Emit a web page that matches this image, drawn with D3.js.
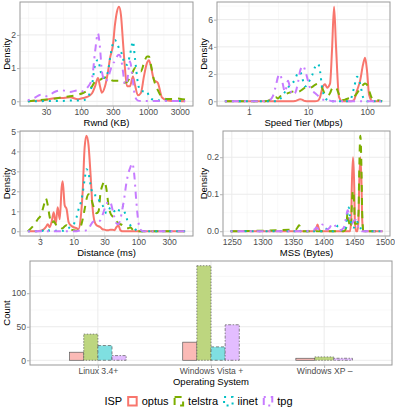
<!DOCTYPE html>
<html>
<head>
<meta charset="utf-8">
<script src="https://cdn.jsdelivr.net/npm/d3@7"></script>
<style>
body { margin: 0; background: #fff; }
svg text { font-family: "Liberation Sans", Arial, sans-serif; }
</style>
</head>
<body>
<svg id="chart" width="395" height="414"></svg>
<script>
// ---- data ----
var isps = ["optus", "telstra", "iinet", "tpg"];

// Rwnd (KB) densities
var rwndKB = [16, 20, 25, 31, 40, 52, 68, 90, 107, 123, 146, 162, 179, 192, 205, 228, 253, 271, 300, 321, 344, 369, 395, 423, 453, 486, 538, 597, 639, 708, 785, 871, 966, 1035, 1108, 1228, 1410, 1616, 1920, 2280, 2800, 3300, 3600];
var rwndOptus = [0, 0.01, 0.02, 0.05, 0.09, 0.1, 0.12, 0.06, 0.1, 0.13, 0.24, 0.45, 0.7, 0.45, 0.26, 0.45, 0.9, 1.3, 1.7, 2.3, 2.7, 2.85, 2.6, 1.8, 1.0, 0.45, 0.45, 0.75, 0.5, 0.18, 0.25, 0.75, 1.15, 1.24, 1.05, 0.65, 0.55, 0.12, 0.03, 0.01, 0.01, 0, 0];
var rwndTelstra = [0, 0.02, 0.04, 0.05, 0.08, 0.12, 0.15, 0.2, 0.25, 0.32, 0.45, 0.6, 0.65, 0.65, 0.68, 0.72, 0.7, 0.66, 0.62, 0.62, 0.62, 0.62, 0.6, 0.58, 0.56, 0.58, 0.72, 0.9, 1.0, 0.95, 0.9, 1.15, 1.35, 1.35, 1.1, 0.65, 0.33, 0.13, 0.07, 0.07, 0.08, 0.06, 0.05];
var rwndIinet = [0, 0, 0, 0.01, 0.01, 0.01, 0.02, 0.02, 0.03, 0.1, 0.5, 1.1, 1.25, 1.0, 0.75, 0.7, 0.9, 1.3, 1.75, 1.85, 1.75, 1.6, 1.5, 1.3, 1.1, 1.1, 1.4, 1.8, 1.3, 0.55, 0.3, 0.3, 0.3, 0.15, 0.08, 0.05, 0.03, 0.02, 0.02, 0.01, 0.01, 0.01, 0];
var rwndTpg = [0.03, 0.1, 0.2, 0.15, 0.28, 0.33, 0.28, 0.33, 0.3, 0.4, 0.7, 1.5, 2.05, 1.6, 0.9, 0.6, 0.7, 0.9, 1.15, 1.2, 1.35, 1.4, 1.3, 0.9, 0.5, 0.6, 1.2, 0.6, 0.15, 0.02, 0.01, 0.01, 0.01, 0.01, 0.01, 0.01, 0.01, 0.01, 0.01, 0.01, 0.01, 0.01, 0];
var rwndTicks = [30, 100, 300, 1000, 3000];
var rwndYTicks = [0, 1, 2];

// Speed tier (Mbps) densities
var speedMbps = [0.39, 0.7, 1.26, 1.87, 2.27, 2.55, 2.87, 3.1, 3.35, 3.63, 4.08, 4.58, 4.95, 5.35, 6.02, 6.77, 7.32, 7.91, 8.23, 8.89, 10, 10.8, 11.7, 13.1, 14.8, 16, 17.3, 19.4, 21, 23.6, 25.5, 27.6, 29.8, 33.5, 37.7, 42.4, 47.6, 53.5, 60.2, 67.7, 76.1, 85.5, 92.5, 100, 108, 122, 137, 166, 180];
var speedOptus = [0, 0, 0, 0, 0, 0, 0, 0, 0, 0, 0, 0, 0, 0, 0.02, 0.1, 0.15, 0.12, 0.08, 0.02, 0, 0, 0, 0, 0.05, 0.3, 0.9, 1.25, 1.0, 1.3, 3.8, 6.95, 4.0, 0.3, 0.01, 0, 0, 0, 0.1, 0.8, 1.5, 2.7, 3.2, 2.2, 0.5, 0.02, 0, 0, 0];
var speedTelstra = [0, 0, 0, 0, 0.1, 0.3, 0.3, 0.2, 0.35, 0.4, 0.5, 0.6, 0.65, 0.7, 0.75, 0.7, 0.75, 0.85, 0.9, 1.0, 1.05, 1.0, 1.05, 1.2, 1.3, 1.25, 1.0, 0.5, 0.4, 0.6, 0.95, 1.05, 1.0, 0.5, 0.1, 0.12, 0.2, 0.25, 0.35, 0.6, 0.95, 1.2, 1.3, 1.2, 0.8, 0.2, 0.1, 0.05, 0];
var speedIinet = [0, 0, 0, 0, 0, 0, 0, 0.05, 0.15, 0.35, 0.7, 1.0, 1.2, 1.3, 1.6, 2.1, 2.15, 1.8, 1.5, 1.1, 1.3, 1.6, 1.9, 2.5, 2.75, 2.2, 1.0, 0.3, 0.1, 0.02, 0, 0, 0, 0, 0, 0, 0, 0.2, 1.0, 1.8, 1.3, 0.3, 0.05, 0, 0, 0, 0, 0, 0];
var speedTpg = [0, 0, 0, 0, 0.1, 0.4, 1.2, 1.8, 2.0, 1.5, 0.7, 1.5, 1.0, 0.5, 0.6, 1.4, 2.2, 2.55, 2.6, 2.3, 1.5, 1.0, 0.8, 0.6, 0.4, 0.25, 0.15, 0.1, 0.1, 0.05, 0, 0, 0, 0, 0, 0, 0, 0, 0, 0, 0, 0, 0, 0, 0, 0, 0, 0, 0];
var speedTicks = [1, 10, 100];
var speedYTicks = [0, 2, 4, 6];

// Distance (ms) densities
var distMs = [1.96, 2.42, 2.79, 3.1, 3.46, 3.71, 3.98, 4.27, 4.59, 4.92, 5.28, 5.67, 6.09, 6.53, 6.77, 7.27, 7.8, 8.37, 8.99, 10, 11.1, 11.9, 12.8, 13.8, 14.8, 15.8, 17, 18.3, 19.6, 21, 22.6, 24.3, 26, 27.9, 30, 32.2, 34.6, 37.1, 39.8, 42.7, 45.9, 49.2, 52.8, 56.7, 60.9, 65.3, 70.2, 75.3, 80.8, 86.8, 93.1, 100, 107, 115, 124, 133, 153, 218, 371, 530];
var distOptus = [0, 0, 0, 0.02, 0.1, 0.2, 0.35, 0.2, 0.5, 0.95, 0.35, 1.2, 0.6, 2.2, 2.5, 1.3, 1.1, 0.45, 0.3, 0.2, 0.15, 0.1, 0.6, 2.0, 4.2, 4.78, 4.3, 2.8, 1.2, 0.5, 0.3, 0.25, 0.2, 0.1, 0.08, 0.05, 0.05, 0.08, 0.08, 0.05, 0.2, 0.3, 0.05, 0, 0, 0, 0, 0, 0, 0, 0, 0, 0, 0, 0, 0, 0, 0, 0, 0];
var distTelstra = [0, 0.3, 0.6, 0.8, 1.3, 1.65, 1.3, 0.7, 0.4, 0.5, 0.35, 0.2, 0.2, 0.15, 0.15, 0.25, 0.3, 0.2, 0.1, 0.05, 0.03, 0.05, 0.2, 0.6, 1.1, 1.6, 1.85, 1.75, 1.4, 1.1, 0.9, 1.0, 1.9, 2.3, 2.5, 2.1, 1.3, 0.9, 0.75, 0.7, 0.5, 0.4, 0.35, 0.3, 0.2, 0.15, 0.15, 0.2, 0.1, 0.02, 0, 0, 0, 0, 0, 0, 0, 0, 0, 0];
var distIinet = [0, 0, 0, 0, 0.05, 0.1, 0.1, 0.02, 0.02, 0.02, 0.02, 0.02, 0.02, 0.02, 0.02, 0.05, 0.1, 0.15, 0.25, 0.35, 0.7, 1.1, 1.4, 1.9, 2.6, 3.1, 2.9, 2.3, 1.9, 1.8, 1.8, 1.6, 1.4, 1.3, 1.1, 0.9, 1.0, 1.2, 1.1, 1.0, 0.9, 1.0, 1.2, 1.3, 1.0, 0.7, 0.4, 0.3, 0.2, 0.15, 0.05, 0, 0, 0, 0, 0, 0, 0, 0, 0];
var distTpg = [0, 0, 0, 0, 0, 0, 0, 0, 0, 0, 0, 0, 0, 0, 0, 0, 0, 0, 0, 0, 0, 0.02, 0.02, 0.02, 0.02, 0.05, 0.1, 0.3, 0.45, 0.5, 0.5, 0.5, 0.55, 0.8, 1.1, 1.35, 1.5, 1.45, 1.1, 0.7, 0.4, 0.35, 0.6, 1.1, 1.7, 2.4, 2.9, 3.2, 3.4, 2.8, 1.5, 0.5, 0.1, 0.02, 0, 0, 0, 0, 0, 0];
var distTicks = [3, 10, 30, 100, 300];
var distYTicks = [0, 1, 2, 3, 4, 5];

// MSS (Bytes) densities
var mssBytes = [1248, 1355, 1358, 1360, 1362, 1365, 1385, 1388, 1390, 1392, 1395, 1398, 1400, 1402, 1405, 1410, 1413, 1416, 1420, 1424, 1428, 1433, 1437, 1439, 1441, 1443, 1445, 1446, 1448, 1450, 1451, 1453, 1455, 1457, 1458, 1460, 1462, 1463, 1465, 1470, 1496];
var mssOptus = [0, 0, 0, 0, 0, 0, 0, 0.008, 0.018, 0.008, 0, 0, 0, 0, 0, 0, 0, 0, 0, 0, 0, 0, 0, 0, 0, 0, 0.03, 0.12, 0.2, 0.12, 0.03, 0, 0, 0.03, 0.12, 0.2, 0.12, 0.03, 0, 0, 0];
var mssTelstra = [0, 0.005, 0.012, 0.016, 0.01, 0, 0, 0, 0, 0, 0, 0, 0, 0, 0, 0, 0, 0, 0, 0, 0, 0, 0.01, 0.05, 0.03, 0.01, 0.02, 0.07, 0.11, 0.07, 0.02, 0.02, 0.02, 0.05, 0.15, 0.258, 0.15, 0.05, 0, 0, 0];
var mssIinet = [0, 0, 0, 0.004, 0, 0, 0, 0, 0, 0, 0, 0, 0.006, 0.008, 0.006, 0, 0, 0, 0.008, 0.016, 0.004, 0, 0.02, 0.05, 0.064, 0.04, 0.02, 0.015, 0.01, 0.01, 0.015, 0.02, 0.025, 0.02, 0.015, 0.01, 0, 0, 0, 0, 0];
var mssTpg = [0, 0, 0, 0, 0, 0, 0.005, 0.01, 0.008, 0.005, 0.01, 0.018, 0.01, 0.005, 0.005, 0.01, 0.018, 0.02, 0.012, 0.005, 0.003, 0.01, 0.04, 0.057, 0.05, 0.03, 0.02, 0.02, 0.025, 0.03, 0.03, 0.03, 0.02, 0.01, 0.008, 0.005, 0, 0, 0, 0, 0];
var mssTicks = [1250, 1300, 1350, 1400, 1450, 1500];
var mssYTicks = [0, 0.1, 0.2];

// Operating system counts (null = no bar)
var osCategories = ["Linux 3.4+", "Windows Vista +", "Windows XP \u2013"];
var osOptus = [12, 27, 3];
var osTelstra = [39, 141, 5];
var osIinet = [22, 20, null];
var osTpg = [7, 53, 3];
var osYTicks = [0, 50, 100];

// ---- styling ----
var ispColors = ["#F8766D", "#7CAE00", "#00BFC4", "#C77CFF"];
var ispFills = ["#FBBAB6", "#BDD67F", "#7FDFE1", "#E3BDFF"];
var ispDash = [null, "7,6", "2,5", "2,5,7,5"];
var barDash = [null, "1.5,1.5", "3,2", "1.5,1.5,3,1.5"];
var tickColor = "#4d4d4d";

var svg = d3.select("#chart");
svg.append("rect").attr("width", 395).attr("height", 414).attr("fill", "#fff");

function minorLog(ticks, dom) {
	var out = [];
	var a = ticks[0], b = ticks[1], n = ticks.length;
	out.push(a / Math.sqrt(b / a));
	for (var i = 0; i < n - 1; i++) out.push(Math.sqrt(ticks[i] * ticks[i + 1]));
	out.push(ticks[n - 1] * Math.sqrt(ticks[n - 1] / ticks[n - 2]));
	return out.filter(function(v) { return v > dom[0] && v < dom[1]; });
}
function minorLin(ticks, dom) {
	var step = ticks[1] - ticks[0], out = [ticks[0] - step / 2];
	ticks.forEach(function(t) { out.push(t + step / 2); });
	return out.filter(function(v) { return v > dom[0] && v < dom[1]; });
}

function styleAxis(ax) {
	ax.select(".domain").remove();
	ax.attr("font-family", null).attr("font-size", null);
	ax.selectAll(".tick line").attr("stroke", "#b3b3b3");
	ax.selectAll(".tick text").attr("fill", tickColor).style("font-size", "8.6px");
}

function densityPanel(p) {
	var g = svg.append("g");
	var ext = d3.extent(p.xs), xd;
	if (p.log) {
		var l0 = Math.log10(ext[0]), l1 = Math.log10(ext[1]), e = (l1 - l0) * 0.05;
		xd = [Math.pow(10, l0 - e), Math.pow(10, l1 + e)];
	} else {
		var e2 = (ext[1] - ext[0]) * 0.05;
		xd = [ext[0] - e2, ext[1] + e2];
	}
	var ymax = d3.max(p.series, function(s) { return d3.max(s); });
	var yd = [-0.05 * ymax, 1.05 * ymax];
	var x = (p.log ? d3.scaleLog() : d3.scaleLinear()).domain(xd).range([p.left, p.right]);
	var y = d3.scaleLinear().domain(yd).range([p.bottom, p.top]);

	var xMinor = p.log ? minorLog(p.xticks, xd) : minorLin(p.xticks, xd);
	var yMinor = minorLin(p.yticks, yd);
	g.selectAll(".vmin").data(xMinor).enter().append("line")
		.attr("x1", x).attr("x2", x).attr("y1", p.top).attr("y2", p.bottom)
		.attr("stroke", "#f3f3f3").attr("stroke-width", 0.6);
	g.selectAll(".hmin").data(yMinor).enter().append("line")
		.attr("y1", y).attr("y2", y).attr("x1", p.left).attr("x2", p.right)
		.attr("stroke", "#f3f3f3").attr("stroke-width", 0.6);
	g.selectAll(".vmaj").data(p.xticks).enter().append("line")
		.attr("x1", x).attr("x2", x).attr("y1", p.top).attr("y2", p.bottom)
		.attr("stroke", "#ebebeb").attr("stroke-width", 1);
	g.selectAll(".hmaj").data(p.yticks).enter().append("line")
		.attr("y1", y).attr("y2", y).attr("x1", p.left).attr("x2", p.right)
		.attr("stroke", "#ebebeb").attr("stroke-width", 1);

	var line = d3.line()
		.x(function(d) { return x(d[0]); })
		.y(function(d) { return y(d[1]); })
		.curve(d3.curveMonotoneX);
	p.series.forEach(function(vals, i) {
		g.append("path")
			.datum(p.xs.map(function(v, j) { return [v, vals[j]]; }))
			.attr("d", line)
			.attr("fill", "none")
			.attr("stroke", ispColors[i])
			.attr("stroke-width", 2)
			.attr("stroke-linejoin", "round")
			.attr("stroke-dasharray", ispDash[i]);
	});

	g.append("rect").attr("x", p.left).attr("y", p.top)
		.attr("width", p.right - p.left).attr("height", p.bottom - p.top)
		.attr("fill", "none").attr("stroke", "#999").attr("stroke-width", 1);

	var xa = g.append("g").attr("transform", "translate(0," + p.bottom + ")")
		.call(d3.axisBottom(x).tickValues(p.xticks).tickFormat(d3.format("d")).tickSize(3).tickPadding(0));
	styleAxis(xa);
	var ya = g.append("g").attr("transform", "translate(" + p.left + ",0)")
		.call(d3.axisLeft(y).tickValues(p.yticks).tickFormat(d3.format(p.yfmt)).tickSize(3).tickPadding(1));
	styleAxis(ya);

	g.append("text").attr("x", (p.left + p.right) / 2).attr("y", p.bottom + 19.5)
		.attr("text-anchor", "middle").style("font-size", "9.5px").text(p.xtitle);
	g.append("text").attr("transform", "translate(" + p.ytx + "," + (p.top + p.bottom) / 2 + ")rotate(-90)")
		.attr("text-anchor", "middle").style("font-size", "9.5px").text("Density");
}

densityPanel({ left: 20, right: 193, top: 2, bottom: 106, log: true, xs: rwndKB,
	series: [rwndOptus, rwndTelstra, rwndIinet, rwndTpg], xticks: rwndTicks, yticks: rwndYTicks,
	yfmt: "d", xtitle: "Rwnd (KB)", ytx: 9.5 });
densityPanel({ left: 217, right: 390, top: 2, bottom: 106, log: true, xs: speedMbps,
	series: [speedOptus, speedTelstra, speedIinet, speedTpg], xticks: speedTicks, yticks: speedYTicks,
	yfmt: "d", xtitle: "Speed Tier (Mbps)", ytx: 207 });
densityPanel({ left: 20, right: 193, top: 131, bottom: 236, log: true, xs: distMs,
	series: [distOptus, distTelstra, distIinet, distTpg], xticks: distTicks, yticks: distYTicks,
	yfmt: "d", xtitle: "Distance (ms)", ytx: 9.5 });
densityPanel({ left: 223, right: 390, top: 131, bottom: 236, log: false, xs: mssBytes,
	series: [mssOptus, mssTelstra, mssIinet, mssTpg], xticks: mssTicks, yticks: mssYTicks,
	yfmt: ".1f", xtitle: "MSS (Bytes)", ytx: 207 });

// ---- bar chart ----
var bar = { left: 30, right: 392, top: 261, bottom: 365 };
var osSeries = [osOptus, osTelstra, osIinet, osTpg];
var bg = svg.append("g");
var cx = d3.scalePoint().domain(osCategories).range([bar.left, bar.right]).padding(0.6);
var osMax = d3.max(osSeries, function(s) { return d3.max(s); });
var by = d3.scaleLinear().domain([-0.05 * osMax, 1.05 * osMax]).range([bar.bottom, bar.top]);

bg.selectAll(".hmin").data(minorLin(osYTicks, by.domain())).enter().append("line")
	.attr("y1", by).attr("y2", by).attr("x1", bar.left).attr("x2", bar.right)
	.attr("stroke", "#f3f3f3").attr("stroke-width", 0.6);
bg.selectAll(".hmaj").data(osYTicks).enter().append("line")
	.attr("y1", by).attr("y2", by).attr("x1", bar.left).attr("x2", bar.right)
	.attr("stroke", "#ebebeb").attr("stroke-width", 1);
bg.selectAll(".vmaj").data(osCategories).enter().append("line")
	.attr("x1", cx).attr("x2", cx).attr("y1", bar.top).attr("y2", bar.bottom)
	.attr("stroke", "#ebebeb").attr("stroke-width", 1);

var groupW = cx.step() * 0.5;
osCategories.forEach(function(cat, ci) {
	var present = [];
	osSeries.forEach(function(s, si) { if (s[ci] != null) present.push(si); });
	var bw = groupW / present.length;
	var x0 = cx(cat) - groupW / 2;
	present.forEach(function(si, k) {
		var v = osSeries[si][ci];
		bg.append("rect")
			.attr("x", x0 + k * bw).attr("width", bw)
			.attr("y", by(v)).attr("height", by(0) - by(v))
			.attr("fill", ispFills[si])
			.attr("stroke", "#5a5a5a").attr("stroke-width", 0.7)
			.attr("stroke-dasharray", barDash[si]);
	});
});

bg.append("rect").attr("x", bar.left).attr("y", bar.top)
	.attr("width", bar.right - bar.left).attr("height", bar.bottom - bar.top)
	.attr("fill", "none").attr("stroke", "#999").attr("stroke-width", 1);

var bxa = bg.append("g").attr("transform", "translate(0," + bar.bottom + ")")
	.call(d3.axisBottom(cx).tickSize(3).tickPadding(0));
styleAxis(bxa);
var bya = bg.append("g").attr("transform", "translate(" + bar.left + ",0)")
	.call(d3.axisLeft(by).tickValues(osYTicks).tickSize(3).tickPadding(1));
styleAxis(bya);
bg.append("text").attr("x", (bar.left + bar.right) / 2).attr("y", bar.bottom + 19.5)
	.attr("text-anchor", "middle").style("font-size", "9.5px").text("Operating System");
bg.append("text").attr("transform", "translate(9.5," + (bar.top + bar.bottom) / 2 + ")rotate(-90)")
	.attr("text-anchor", "middle").style("font-size", "9.5px").text("Count");

// ---- legend ----
var lg = svg.append("g");
var ly = 405, keyS = 8.5;
var title = lg.append("text").attr("x", 0).attr("y", ly).style("font-size", "11px").text("ISP");
var cur = title.node().getComputedTextLength() + 6;
isps.forEach(function(name, i) {
	lg.append("rect").attr("x", cur).attr("y", ly - 8).attr("width", keyS).attr("height", keyS)
		.attr("fill", "none").attr("stroke", ispColors[i]).attr("stroke-width", 2)
		.attr("stroke-dasharray", ispDash[i]);
	cur += keyS + 5;
	var t = lg.append("text").attr("x", cur).attr("y", ly).style("font-size", "11px").text(name);
	cur += t.node().getComputedTextLength() + 6;
});
cur -= 6;
lg.attr("transform", "translate(" + (198.5 - cur / 2) + ",0)");
</script>
</body>
</html>
